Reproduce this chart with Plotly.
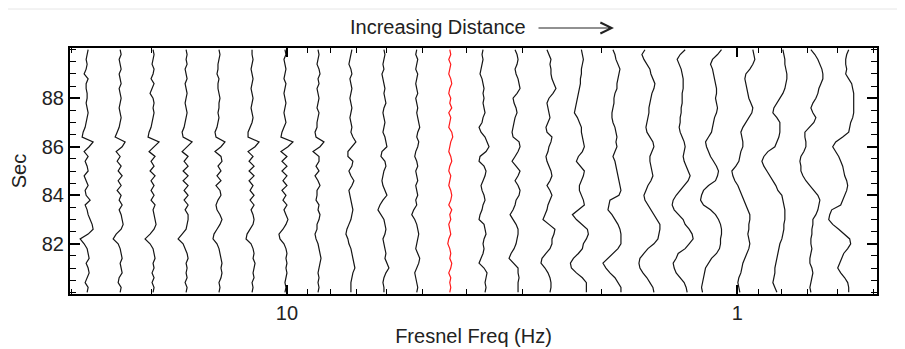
import math
import plotly.graph_objects as go

# --- Data ---------------------------------------------------------------
times = [90.0, 89.8, 89.6, 89.4, 89.2, 89.0, 88.8, 88.6, 88.4, 88.2,
         88.0, 87.8, 87.6, 87.4, 87.2, 87.0, 86.8, 86.6, 86.4, 86.2,
         86.0, 85.8, 85.6, 85.4, 85.2, 85.0, 84.8, 84.6, 84.4, 84.2,
         84.0, 83.8, 83.6, 83.4, 83.2, 83.0, 82.8, 82.6, 82.4, 82.2,
         82.0, 81.8, 81.6, 81.4, 81.2, 81.0, 80.8, 80.6, 80.4, 80.2,
         80.0]

# Fresnel frequency (Hz) at which each trace is centred
centres = [27.76, 23.45, 19.82, 16.74, 14.15, 11.95, 10.10, 8.53, 7.21, 6.09,
           5.15, 4.35, 3.67, 3.10, 2.62, 2.22, 1.87, 1.58, 1.34, 1.13,
           0.953, 0.805, 0.680, 0.575]
highlight_index = 11  # red trace

# signal deviation of each trace (arbitrary units), sampled at `times`
t01 = [1,0,-1,0,-1,-3,1,-1,-1,0, 0,-1,0,1,0,-1,-2,-4,-5,6, 2,-3,1,-2,0,1,-3,-1,1,-2, -1,3,-2,0,1,3,5,6,1,-7, -3,0,1,2,-1,1,2,0,-2,1, 0]
t02 = [0,1,-1,0,1,-1,0,1,-1,0, 1,0,-1,0,1,0,-1,-3,-5,5, 2,-4,0,-3,1,-2,2,-2,1,-3, 1,-1,2,-1,1,2,3,1,-4,-7, -2,0,1,2,0,1,2,-1,-2,1, 0]
t03 = [0,1,0,-1,1,0,-2,1,-1,-3, 0,1,0,1,0,-1,-2,-4,-5,6, 1,-4,2,-2,1,-3,2,-2,1,-2, 1,-2,2,0,1,2,3,1,-3,-8, -3,0,1,2,0,1,-1,1,-1,1, 0]
t04 = [0,1,0,1,-1,0,1,-1,0,1, 0,-1,0,1,0,-1,-2,-4,-3,6, 1,-4,2,-2,2,-3,2,-3,2,-2, 2,-2,2,-1,2,2,1,0,-4,-8, -3,-1,1,2,0,1,0,1,-1,1, 0]
t05 = [0,1,0,-1,-1,-2,0,-1,-1,0, 1,0,0,-1,0,-1,-2,-4,-3,6, 2,-4,2,3,-1,2,-2,2,-3,1, 2,-1,-3,-2,1,3,1,-2,-5,-6, -2,0,1,2,3,2,3,2,0,1, 0]
t06 = [0,0,1,0,-1,0,1,0,-1,0, 1,0,-1,0,1,0,-2,-4,-4,7, 3,-4,1,-3,2,-3,2,-3,1,-2, 2,-2,2,-1,1,2,1,-2,-5,-6, -1,1,2,1,3,2,1,2,0,1, 0]
t07 = [0,1,-1,0,1,0,-1,1,0,-1, 0,1,0,-1,0,1,-1,-3,-4,8, 3,-4,2,-3,2,-3,2,-2,2,-3, 1,-2,2,-1,1,3,1,-2,-6,-5, -1,1,2,1,2,1,2,1,0,1, 0]
t08 = [0,1,0,-1,1,2,0,1,-1,0, 1,0,-1,1,0,-1,-1,-3,-2,6, 2,-5,1,1,-2,1,-3,0,2,-1, -1,-2,1,0,2,1,-1,-1,-3,-2, 0,1,2,3,2,1,0,1,0,1, 0]
t09 = [1,0,-1,-2,0,1,-1,0,1,0, -1,0,1,0,-1,0,1,0,2,5, 1,-3,-3,2,1,-2,0,3,1,-2, -1,0,1,2,1,0,-2,-4,-5,-3, -2,0,1,2,3,4,2,1,0,0, 0]
t10 = [0,1,0,-1,0,-2,-1,0,1,0, 1,2,0,-1,0,1,0,-1,1,2, 3,-2,-3,1,2,0,-1,-2,-1,1, 3,-1,-4,-6,-3,0,1,2,1,-1, 0,1,2,1,3,5,2,0,-1,0, 0]
t11 = [0,-1,1,0,-1,1,0,-1,0,1, -1,0,1,0,1,2,3,1,0,2, 1,-1,-2,0,1,-1,0,1,-1,0, 1,-1,0,-3,-5,-2,0,1,2,1, 0,-1,1,3,2,0,-2,-1,0,1, 0]
t12 = [0,1,-1,1,0,-1,1,2,0,-1, 1,0,2,-1,1,0,-1,2,3,1, 0,-1,1,2,0,-1,1,0,-1,1, 2,1,-1,2,0,1,-1,0,1,-1, -2,0,1,0,2,1,-1,1,0,1, 0]
t13 = [0,-1,0,-1,-2,-3,-1,0,1,0, 1,0,1,2,0,-1,-4,-2,2,4, 6,3,-3,-4,1,3,2,0,-2,-1, 1,2,0,-1,-3,-4,1,2,3,1, 0,1,0,-2,-4,1,4,3,2,3, 2]
t14 = [-1,1,2,1,-1,0,2,3,4,1, -3,-2,0,1,-1,-2,-3,-4,-3,3, 4,2,-1,-4,0,4,2,-1,2,4, 3,0,-1,-3,-6,-3,0,2,2,1, 0,-2,-5,-7,-2,2,2,3,2,2, 2]
t15 = [-2,0,2,1,2,2,3,5,7,4, 0,-2,-1,0,1,-1,-3,-2,3,2, 0,-1,-3,-2,0,2,3,1,-2,1, 3,1,-1,-2,-4,-6,0,6,5,3, 3,1,-3,-7,-8,-4,-1,1,2,2, 1]
t16 = [0,1,2,1,0,0,-1,-1,-2,-3, -4,-5,-6,-7,-4,-2,0,0,1,2, 3,1,-3,-5,-1,3,2,0,-2,-2, 0,2,3,-3,-9,-5,1,6,7,5, 2,1,-3,-8,-11,-10,-5,1,5,5, 5]
t17 = [-2,0,1,3,5,4,3,2,2,0, -1,-1,-2,-3,-3,-2,0,1,2,1, 2,0,-2,0,1,2,3,4,5,6, 4,-5,-6,-7,-3,0,3,5,6,6, 6,3,-2,-6,-12,-9,-5,0,3,6, 6]
t18 = [-3,-6,-4,-1,2,3,5,7,6,4, 3,2,1,1,0,-1,-2,-1,2,5, 6,4,2,2,3,4,5,3,0,-2, -4,-3,0,3,6,9,12,12,11,10, 6,0,-4,-8,-9,-8,-5,-1,2,5, 6]
t19 = [5,0,-3,-1,1,2,3,3,3,2, 2,2,1,1,0,0,-1,0,2,4, 5,4,3,4,6,8,10,8,4,0, -4,-7,-8,-6,-1,3,5,9,12,13, 9,5,-2,-4,-7,-6,-4,0,4,6, 7]
t20 = [8,4,-1,-3,-1,0,1,2,3,3, 2,3,4,3,1,0,-1,-2,-5,-8, -7,-5,-3,0,3,5,4,2,-5,-10, -12,-13,-10,-3,2,5,7,8,8,7, 7,6,3,-2,-5,-8,-9,-10,-11,-12, -11]
t21 = [6,7,8,6,3,-1,-2,-1,0,1, 2,4,6,5,2,-1,-4,-6,-5,-4, -4,-6,-7,-8,-11,-15,-14,-12,-9,-7, -5,-3,-1,1,3,3,2,2,1,2, 3,2,0,-2,-4,-5,-6,-8,-9,-8, -7]
t22 = [3,4,5,5,6,7,7,6,5,3, 0,-3,-6,-7,-3,0,0,0,-1,-3, -5,-12,-16,-18,-16,-13,-10,-7,-4,-2, 2,3,4,5,5,5,4,4,3,2, 0,-1,-2,-3,-4,-5,-5,-6,-7,-5, -3]
t23 = [-2,2,5,7,9,10,10,8,6,5, 3,0,-2,0,3,1,-4,-8,-8,-7, -7,-9,-12,-13,-12,-12,-10,-7,-3,1, 5,7,6,5,3,0,0,-1,-1,-2, -2,-1,-2,-3,-3,-1,0,-1,-2,-3, -2]
t24 = [3,1,0,0,1,0,3,6,7,8, 8,8,8,8,7,5,4,3,-3,-10, -13,-10,-7,-5,-3,-2,-1,1,2,1, -1,-3,-5,-14,-16,-17,-13,-7,-1,4, 5,2,-2,-4,-6,-8,-5,-1,2,3, 3]

traces = [t01, t02, t03, t04, t05, t06, t07, t08, t09, t10, t11, t12,
          t13, t14, t15, t16, t17, t18, t19, t20, t21, t22, t23, t24]

x_ticks = [10, 1]
x_minor = [30, 20, 9, 8, 7, 6, 5, 4, 3, 2, 0.9, 0.8, 0.7, 0.6, 0.5]
y_ticks = [82, 84, 86, 88]

# deviation unit expressed in decades of the log axis
dev_scale = 1.0 / 451.0

# --- Figure -------------------------------------------------------------
fig = go.Figure()
for k, (c, dev) in enumerate(zip(centres, traces)):
    n = min(len(dev), len(times))
    xs = [c * 10 ** (-d * dev_scale) for d in dev[:n]]
    fig.add_trace(go.Scatter(
        x=xs, y=times[:n], mode="lines",
        line=dict(color="#ff1a1a" if k == highlight_index else "#151515", width=1.2),
        showlegend=False, hoverinfo="skip"))

font = "Liberation Sans, Arial, Helvetica, sans-serif"

# plot area in page pixels: x 70..877, y 48..294 (page has 8px body margin)
PX0, PX1, PY0, PY1 = 70, 877, 48, 294
def px(x):
    return (x - PX0) / (PX1 - PX0)
def py(y):
    return (PY1 - y) / (PY1 - PY0)

fig.update_layout(
    width=897, height=341,
    margin=dict(l=62, r=28, t=40, b=55, autoexpand=False),
    paper_bgcolor="white", plot_bgcolor="white",
    font=dict(family=font, size=20, color="#222"),
    xaxis=dict(
        type="log", range=[math.log10(30.3), math.log10(0.49)],
        tickvals=x_ticks, ticktext=[str(v) for v in x_ticks],
        ticks="inside", ticklen=9, tickwidth=1.5, tickcolor="black",
        minor=dict(tickvals=x_minor, ticks="inside", ticklen=5, tickwidth=1.2, tickcolor="black"),
        showline=True, linecolor="black", linewidth=2, mirror="allticks",
        showgrid=False, zeroline=False, automargin=False,
        title=dict(text="Fresnel Freq (Hz)", font=dict(size=20), standoff=6),
        tickfont=dict(size=20),
    ),
    yaxis=dict(
        range=[79.93, 90.07],
        tickvals=y_ticks,
        ticks="inside", ticklen=10, tickwidth=1.5, tickcolor="black",
        minor=dict(dtick=0.5, ticks="inside", ticklen=6, tickwidth=1.2, tickcolor="black"),
        showline=True, linecolor="black", linewidth=2, mirror="allticks",
        showgrid=False, zeroline=False, automargin=False,
        title=dict(text="Sec", font=dict(size=20), standoff=10),
        tickfont=dict(size=20),
    ),
    annotations=[
        dict(text="Increasing Distance", xref="paper", yref="paper",
             x=px(437.5), y=py(27), showarrow=False,
             font=dict(size=20, color="#222"), xanchor="center", yanchor="middle"),
        dict(text="", xref="paper", yref="paper",
             x=px(614), y=py(28),
             ax=-77, ay=0, showarrow=True, arrowhead=5, arrowsize=2.2,
             arrowwidth=1, arrowcolor="#222"),
    ],
    shapes=[dict(type="line", xref="paper", yref="paper",
                 x0=px(8), x1=px(905), y0=py(9), y1=py(9),
                 line=dict(color="#e6e6e6", width=1))],
)

fig.write_html("out.html")
